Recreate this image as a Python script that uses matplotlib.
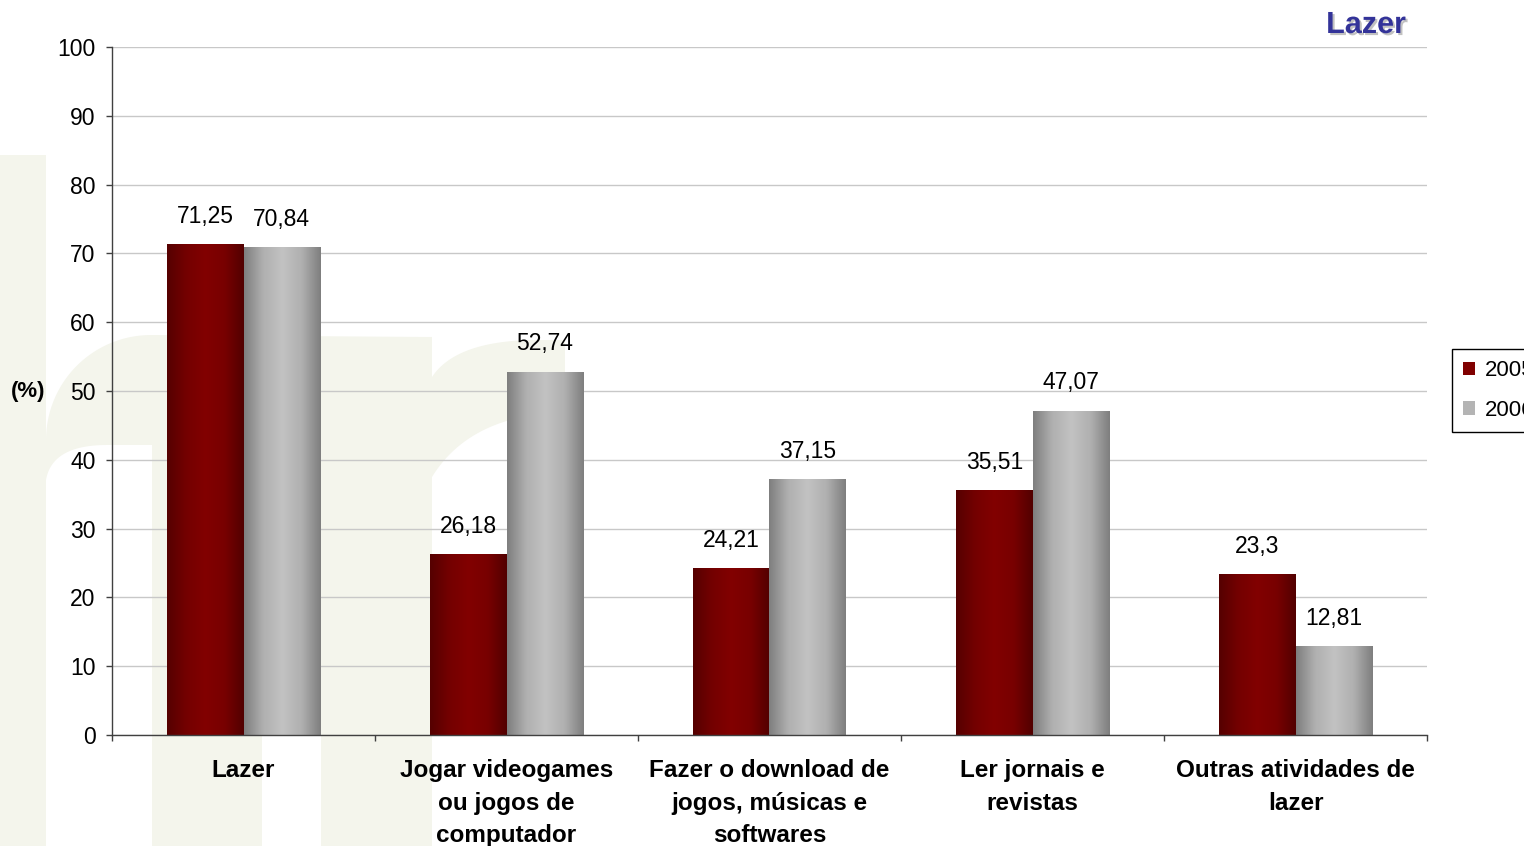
import numpy as np
import matplotlib
matplotlib.use("Agg")
import matplotlib.pyplot as plt
import matplotlib.patheffects as pe
from matplotlib.colors import LinearSegmentedColormap
from matplotlib.patches import Polygon, Patch

# dados
categorias = [
    "Lazer",
    "Jogar videogames\nou jogos de\ncomputador",
    "Fazer o download de\njogos, músicas e\nsoftwares",
    "Ler jornais e\nrevistas",
    "Outras atividades de\nlazer",
]
anos = ["2005", "2006"]
v2005 = [71.25, 26.18, 24.21, 35.51, 23.3]
v2006 = [70.84, 52.74, 37.15, 47.07, 12.81]
yticks = list(range(0, 101, 10))

W, H = 1524, 846
plt.rcParams["font.family"] = ["Liberation Sans", "DejaVu Sans"]

fig = plt.figure(figsize=(W / 100, H / 100), dpi=100)
fig.patch.set_facecolor("white")

# marca d'agua no fundo (pixels a partir do canto superior esquerdo)
BEGE = "#f4f5ec"


def px(pts):
    return [(x / W, 1 - y / H) for x, y in pts]


def arco(cx, cy, r, a0, a1, n=30):
    t = np.radians(np.linspace(a0, a1, n))
    return [(cx + r * np.cos(a), cy - r * np.sin(a)) for a in t]


def bezier(p0, c, p1, n=30):
    t = np.linspace(0, 1, n)[:, None]
    p0, c, p1 = map(np.array, (p0, c, p1))
    pts = (1 - t) ** 2 * p0 + 2 * (1 - t) * t * c + t ** 2 * p1
    return [tuple(p) for p in pts]


def fundo(pts, cor):
    fig.add_artist(Polygon(px(pts), closed=True, transform=fig.transFigure,
                           facecolor=cor, edgecolor="none", zorder=-5))


fundo([(0, 155), (46, 155), (46, 846), (0, 846)], BEGE)
fundo([(46, 846), (46, 440)] + arco(151, 440, 105, 180, 90) + [(432, 337), (432, 846)], BEGE)
fundo([(46, 846), (46, 480)] + bezier((46, 480), (52, 445), (107, 445)) + [(152, 445), (152, 846)], "white")
fundo([(262, 846), (262, 470), (321, 470), (321, 846)], "white")
fundo(bezier((432, 377), (455, 342), (530, 340)) + [(565, 340), (565, 412)]
      + bezier((565, 412), (470, 415), (432, 477)), BEGE)

ax = fig.add_axes([112 / W, (H - 735) / H, (1427 - 112) / W, (735 - 47) / H])
ax.set_facecolor("none")

x = np.arange(len(categorias))
w = 0.289

cm_verm = LinearSegmentedColormap.from_list(
    "verm", ["#550000", "#740000", "#820000", "#780000", "#520000"])
cm_cinza = LinearSegmentedColormap.from_list(
    "cinza", ["#7e7e7e", "#b0b0b0", "#c2c2c2", "#b0b0b0", "#7e7e7e"])
grad = np.linspace(0, 1, 256).reshape(1, -1)

barras = []
for vals, off, cmap, cor, ano in [(v2005, -w / 2, cm_verm, "#800000", anos[0]),
                                  (v2006, w / 2, cm_cinza, "#b4b4b4", anos[1])]:
    bars = ax.bar(x + off, vals, w, color="none", edgecolor="none", zorder=2)
    for r, v in zip(bars, vals):
        x0, y0 = r.get_x(), r.get_y()
        ax.imshow(grad, cmap=cmap, aspect="auto", interpolation="bicubic",
                  extent=[x0, x0 + r.get_width(), y0, y0 + r.get_height()], zorder=2)
        ax.annotate(f"{v:g}".replace(".", ","), (x0 + r.get_width() / 2, v),
                    xytext=(0, 12), textcoords="offset points",
                    ha="center", va="bottom", fontsize=16.5)
    barras.append(Patch(facecolor=cor, edgecolor="none", label=ano))

ax.set_xlim(-0.5, len(categorias) - 0.5)
ax.set_ylim(0, 100)
ax.set_yticks(yticks)
ax.set_xticks(x)
ax.set_xticklabels(categorias, fontweight="bold", fontsize=17.5, linespacing=1.55)
ax.set_xticks(np.arange(-0.5, len(categorias)), minor=True)
ax.tick_params(axis="x", which="major", length=0, pad=17)
ax.tick_params(axis="x", which="minor", length=4.3, width=1, color="#404040")
ax.tick_params(axis="y", length=4.3, width=1, color="#404040", labelsize=16.5, pad=7.5)

ax.yaxis.grid(True, color="#c8c8c8", lw=1)
ax.set_axisbelow(True)
for s in ["top", "right"]:
    ax.spines[s].set_visible(False)
for s in ["left", "bottom"]:
    ax.spines[s].set_color("#404040")
    ax.spines[s].set_linewidth(1)

fig.text(28 / W, 1 - 391 / H, "(%)", ha="center", va="center",
         fontsize=16, fontweight="bold")

t = fig.text(1366 / W, 1 - 25 / H, "Lazer", ha="center", va="center",
             fontsize=22, fontweight="bold", color="#333399")
t.set_path_effects([pe.withSimplePatchShadow(offset=(1.5, -1.5),
                                             shadow_rgbFace="#999999", alpha=0.6)])

fig.legend(handles=barras, loc="upper left",
           bbox_to_anchor=(1452 / W, 1 - 349 / H), fontsize=16,
           frameon=True, fancybox=False, edgecolor="black", framealpha=1,
           handlelength=0.55, handleheight=0.55, handletextpad=0.45,
           labelspacing=0.85, borderpad=0.5, borderaxespad=0)

fig.savefig("out.png", dpi=100)
